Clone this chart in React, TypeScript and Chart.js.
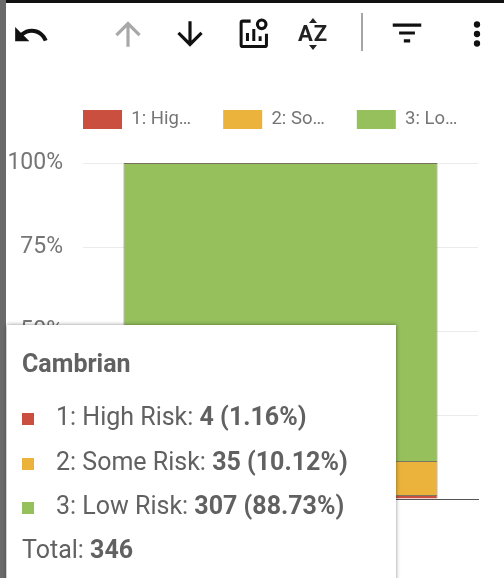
import React, { useEffect, useRef } from "react";
import { Chart, registerables } from "chart.js";

Chart.register(...registerables);

const categories = ["Cambrian"];
const seriesNames = ["1: High Risk", "2: Some Risk", "3: Low Risk"];
const legendLabels = ["1: Hig…", "2: So…", "3: Lo…"];
const seriesColors = ["#cb4f3e", "#ebb33b", "#95c05c"];
const seriesCounts = [4, 35, 307];
const seriesPercents = [1.16, 10.12, 88.73];
const total = 346;
const yTicks = ["0%", "25%", "50%", "75%", "100%"];

const FONT = "Roboto, sans-serif";
const TEXT = "#616161";

const legendPlacer = {
  id: "legendPlacer",
  afterLayout(chart: any) {
    chart.legend.left = 83 - chart.options.plugins.legend.labels.padding;
    chart.legend.top = 78;
  },
};

function Icon({ x, y, children }: { x: number; y: number; children: React.ReactNode }) {
  return (
    <svg
      width={38}
      height={38}
      viewBox="0 0 24 24"
      style={{ position: "absolute", left: x - 19, top: y - 19 }}
    >
      {children}
    </svg>
  );
}

export default function App() {
  const ref = useRef<HTMLCanvasElement>(null);

  useEffect(() => {
    document.body.style.margin = "0";
    const chart = new Chart(ref.current!, {
      type: "bar",
      data: {
        labels: categories,
        datasets: seriesNames.map((name, i) => ({
          label: name,
          data: [seriesPercents[i]],
          backgroundColor: seriesColors[i],
          borderColor: "rgba(70,60,30,0.7)",
          borderWidth: 1,
          barPercentage: 0.795,
          categoryPercentage: 1,
        })),
      },
      options: {
        responsive: false,
        animation: false,
        layout: { padding: { top: 102 } },
        plugins: {
          tooltip: { enabled: false },
          legend: {
            position: "top",
            align: "start",
            labels: {
              boxWidth: 39,
              boxHeight: 19,
              padding: 32,
              color: "#757575",
              font: { family: FONT, size: 18.5 },
              generateLabels: () =>
                legendLabels.map((text, i) => ({
                  text,
                  fillStyle: seriesColors[i],
                  strokeStyle: seriesColors[i],
                  lineWidth: 0,
                  datasetIndex: i,
                  fontColor: "#757575",
                })),
            },
          },
        },
        scales: {
          x: {
            stacked: true,
            afterFit: (s: any) => {
              s.height = 79;
            },
            grid: { display: false, drawTicks: false },
            border: { display: true, color: "#555555", width: 1 },
            ticks: { color: "#757575", font: { family: FONT, size: 18 } },
          },
          y: {
            stacked: true,
            min: 0,
            max: 100,
            afterFit: (s: any) => {
              s.width = 83;
            },
            grid: { color: "#ebebeb", drawTicks: false },
            border: { display: false },
            ticks: {
              stepSize: 25,
              padding: 20,
              color: "#757575",
              font: { family: FONT, size: 23 },
              callback: (_v: any, i: number) => yTicks[i],
            },
          },
          rightGutter: {
            type: "linear",
            position: "right",
            display: true,
            afterFit: (s: any) => {
              s.width = 26;
            },
            grid: { display: false, drawTicks: false },
            border: { display: false },
            ticks: { display: false },
          },
        },
      },
      plugins: [legendPlacer],
    } as any);
    return () => chart.destroy();
  }, []);

  const rowTop = [402, 447, 491];

  return (
    <div style={{ position: "relative", width: 504, height: 578, overflow: "hidden", background: "#fff", fontFamily: FONT }}>
      <canvas ref={ref} width={504} height={578} style={{ position: "absolute", left: 0, top: 0, display: "block" }} />

      <div style={{ position: "absolute", left: 0, top: 0, width: 504, height: 3, background: "#111" }} />
      <div style={{ position: "absolute", left: 0, top: 0, width: 6, height: 578, background: "#6a6a6a" }} />

      <Icon x={31} y={35}>
        <path fill="#111" d="M12.5 8c-2.65 0-5.05.99-6.9 2.6L2 7v9h9l-3.62-3.62c1.39-1.16 3.16-1.88 5.12-1.88 3.54 0 6.55 2.31 7.6 5.5l2.37-.78C21.08 11.03 17.15 8 12.5 8z" />
      </Icon>
      <Icon x={128} y={34}>
        <path fill="#a8a8a8" d="M4 12l1.41 1.41L11 7.83V20h2V7.83l5.58 5.59L20 12l-8-8-8 8z" />
      </Icon>
      <Icon x={190} y={34}>
        <path fill="#111" d="M20 12l-1.41-1.41L13 16.17V4h-2v12.17l-5.58-5.59L4 12l8 8 8-8z" />
      </Icon>
      <Icon x={253} y={33}>
        <path fill="none" stroke="#111" strokeWidth={1.9} d="M10.5 4.5H5.5a1 1 0 0 0-1 1v14a1 1 0 0 0 1 1h14a1 1 0 0 0 1-1v-7" />
        <path stroke="#111" strokeWidth={1.9} d="M8.5 17v-5M12.5 17V9.5M16.5 17v-3" />
        <circle cx={17.5} cy={6.5} r={2.7} fill="none" stroke="#111" strokeWidth={2} />
      </Icon>
      <div style={{ position: "absolute", left: 298, top: 21, height: 26, color: "#222", lineHeight: "26px", fontFamily: FONT, fontWeight: 700, fontSize: 22, display: "flex", gap: 1 }}>
        <span>A</span>
        <span>Z</span>
      </div>
      <svg width={24} height={50} style={{ position: "absolute", left: 301, top: 10 }}>
        <path fill="#222" d="M12 8l4 5H8zM12 40l4-5H8z" />
      </svg>
      <div style={{ position: "absolute", left: 361, top: 13, width: 2, height: 38, background: "#a5a5a5" }} />
      <Icon x={407} y={33}>
        <path fill="#111" d="M3 6h18v2H3zM7 11h10v2H7zM10 16h4v2h-4z" />
      </Icon>
      <Icon x={477} y={34}>
        <path fill="#111" d="M12 8a2 2 0 1 0 0-4 2 2 0 0 0 0 4zm0 2a2 2 0 1 0 0 4 2 2 0 0 0 0-4zm0 6a2 2 0 1 0 0 4 2 2 0 0 0 0-4z" />
      </Icon>

      <div style={{ position: "absolute", left: 7, top: 325, width: 389, height: 270, background: "#fff", boxShadow: "0 0 4px rgba(0,0,0,0.45)", color: TEXT }}>
        <div style={{ position: "absolute", left: 15, top: 24, fontSize: 25, fontWeight: 700, lineHeight: "30px", whiteSpace: "nowrap" }}>{categories[0]}</div>
        {seriesNames.map((name, i) => (
          <React.Fragment key={name}>
            <div style={{ position: "absolute", left: 15, top: rowTop[i] - 325 + 11, width: 12, height: 12, background: seriesColors[i] }} />
            <div style={{ position: "absolute", left: 49, top: rowTop[i] - 325, fontSize: 25, lineHeight: "30px", whiteSpace: "nowrap" }}>
              {name}: <b>{seriesCounts[i]} ({seriesPercents[i].toFixed(2)}%)</b>
            </div>
          </React.Fragment>
        ))}
        <div style={{ position: "absolute", left: 15, top: 210, fontSize: 25, lineHeight: "30px", whiteSpace: "nowrap" }}>
          Total: <b>{total}</b>
        </div>
      </div>
    </div>
  );
}
